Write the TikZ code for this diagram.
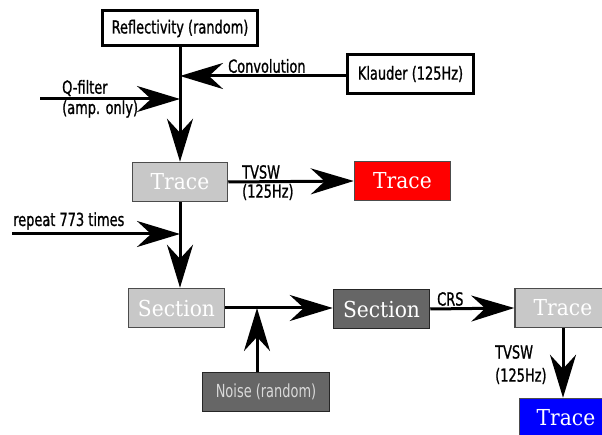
\documentclass[tikz,border=0pt]{standalone}
\usepackage{fontspec}
\setmainfont[FakeStretch=0.92]{DejaVu Serif}
\newfontfamily\lblfont[FakeStretch=0.8,FakeBold=1]{DejaVu Sans Condensed}
\newfontfamily\lightfont[FakeStretch=0.8]{DejaVu Sans Condensed}
\usetikzlibrary{arrows.meta}
\definecolor{lightbox}{HTML}{C8C8C8}
\definecolor{darkbox}{HTML}{666666}
\begin{document}
\begin{tikzpicture}[x=1pt,y=-1pt,
  conn/.style={line width=3pt,-{Stealth[length=43pt,width=26pt,inset=14pt]}},
  whitebox/.style={draw=black,line width=3pt,fill=white,inner sep=0pt,font=\lblfont\fontsize{18}{20}\selectfont},
  graybox/.style={draw=black!70,line width=1.5pt,fill=lightbox,text=white,inner sep=0pt,font=\fontsize{22}{24}\selectfont},
  darkgraybox/.style={draw=black!85,line width=1.5pt,fill=darkbox,text=white,inner sep=0pt,font=\fontsize{22}{24}\selectfont},
  lbl/.style={font=\lblfont\fontsize{18}{20}\selectfont,inner sep=0pt,anchor=west}]
\clip (0,0) rectangle (602,435);
\fill[white] (0,0) rectangle (602,435);
% nodes
\node[whitebox,minimum width=155pt,minimum height=35pt] (refl) at (180,28.5) {Reflectivity (random)};
\node[whitebox,minimum width=126pt,minimum height=39pt] (klauder) at (410.5,74) {Klauder (125Hz)};
\node[graybox,minimum width=95pt,minimum height=39pt] (trace1) at (180,182) {Trace};
\node[draw=black!70,line width=1.5pt,fill=red,text=white,inner sep=0pt,font=\fontsize{22}{24}\selectfont,minimum width=96pt,minimum height=39pt] (red) at (402.5,181) {Trace};
\node[graybox,minimum width=96pt,minimum height=39pt] (sec1) at (176.5,308) {Section};
\node[darkgraybox,minimum width=96pt,minimum height=39pt] (sec2) at (381.5,309) {Section};
\node[draw=black!85,line width=1.5pt,fill=darkbox,text=black!15,inner sep=0pt,font=\lightfont\fontsize{18}{20}\selectfont,minimum width=127pt,minimum height=39pt] (noise) at (266,392) {Noise (random)};
\node[graybox,minimum width=96pt,minimum height=39pt] (trace3) at (563,308) {Trace};
\node[draw=black!70,line width=1.5pt,fill=blue,text=white,inner sep=0pt,font=\fontsize{22}{24}\selectfont,minimum width=93pt,minimum height=39pt] (blue) at (566,418) {Trace};
% coordinates
\coordinate (jconv) at (180,76);
\coordinate (jq) at (180,99);
\coordinate (qstart) at (40,99);
\coordinate (jrep) at (180,234);
\coordinate (rstart) at (12,234);
\coordinate (jnoise) at (257,308);
% connectors
\draw[conn] (refl.south) -- (trace1.north);
\draw[conn] (klauder.west |- jconv) -- (jconv);
\draw[conn] (qstart) -- (jq);
\draw[conn] (trace1.east) -- (red.west);
\draw[conn] (trace1.south) -- (trace1.south |- sec1.north);
\draw[conn] (rstart) -- (jrep);
\draw[conn] (sec1.east) -- (sec2.west |- sec1.east);
\draw[conn] (noise.north -| jnoise) -- (jnoise);
\draw[conn] (sec2.east) -- (trace3.west);
\draw[conn] (trace3.south) -- (trace3.south |- blue.north);
% labels
\node[lbl] (lconv) at (228,66) {Convolution};
\node[lbl] (lq1) at (62,88) {Q-filter};
\node[lbl] (lq2) at (62,109) {(amp. only)};
\node[lbl] (ltv1) at (242,172) {TVSW};
\node[lbl] (ltv2) at (242,192) {(125Hz)};
\node[lbl] (lrep) at (13,221) {repeat 773 times};
\node[lbl] (lcrs) at (437,299) {CRS};
\node[lbl] (ltv3) at (495,352) {TVSW};
\node[lbl] (ltv4) at (495,376) {(125Hz)};
\end{tikzpicture}
\end{document}
